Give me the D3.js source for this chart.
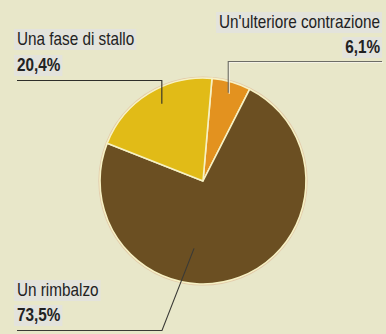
<!DOCTYPE html>
<html>
<head>
<meta charset="utf-8">
<script src="https://cdn.jsdelivr.net/npm/d3@7"></script>
<style>
  html, body { margin: 0; padding: 0; background: #e8e7c9; }
  svg { display: block; }
  text { font-family: "Liberation Sans", Arial, sans-serif; fill: #222; }
</style>
</head>
<body>
<svg id="chart" width="386" height="334"></svg>
<script>
// Scenario shares (percent), drawn clockwise starting with the smallest slice
const categories = ["Un'ulteriore contrazione", "Un rimbalzo", "Una fase di stallo"];
const values = [6.1, 73.5, 20.4];
const valueLabels = ["6,1%", "73,5%", "20,4%"];
const colors = ["#e3921f", "#6b4f22", "#e1bb17"];

const W = 386, H = 334;
const cx = 203, cy = 181, R = 103;
const deg = Math.PI / 180;
const start = 5 * deg;

const svg = d3.select("#chart");

const pie = d3.pie().sort(null).value(d => d).startAngle(start).endAngle(start + 2 * Math.PI);
const arcs = pie(values);
const arc = d3.arc().innerRadius(0).outerRadius(R);

const g = svg.append("g").attr("transform", `translate(${cx},${cy})`);

// faint halo around the disc
g.append("circle").attr("r", R + 0.8).attr("fill", "none")
  .attr("stroke", "#e2c9a9").attr("stroke-width", 1.6);

g.selectAll("path.slice").data(arcs).join("path")
  .attr("class", "slice")
  .attr("d", arc)
  .attr("fill", (d, i) => colors[i])
  .attr("stroke", "#f6f1c4")
  .attr("stroke-width", 1.6)
  .attr("stroke-linejoin", "round");

// label layout: where each leader touches its slice, and where its text sits
const layout = [
  { frac: 0.5,  rf: 0.89, side: "right", nameY: 28,  valY: 53,  lineY: 61.5, lineEnd: 382, stroke: "#6d6d66" },
  { frac: 0.607, rf: 0.66, side: "left", nameY: 296, valY: 321, lineY: 330.5, lineEnd: 17, stroke: "#3a3a36", bend: 162 },
  { frac: 0.55, rf: 0.85, side: "left",  nameY: 45,  valY: 71,  lineY: 80.5, lineEnd: 17, stroke: "#2e2e2a" }
];

function pointOn(a, frac, rf) {
  const ang = a.startAngle + (a.endAngle - a.startAngle) * frac;
  return [cx + Math.sin(ang) * R * rf, cy - Math.cos(ang) * R * rf];
}

const labelBg = svg.append("g");
const labelFg = svg.append("g");
const squeeze = 0.85;

function addLabel(str, x, y, anchor, bold) {
  // horizontally condensed text, anchored at (x, y)
  const grp = labelFg.append("g").attr("transform", `translate(${x},${y}) scale(${squeeze},1)`);
  const t = grp.append("text").attr("x", 0).attr("y", 0)
    .attr("text-anchor", anchor).attr("font-size", 18)
    .attr("font-weight", bold ? "bold" : null).text(str);
  const w = t.node().getComputedTextLength() * squeeze;
  const x0 = anchor === "start" ? x - 3 : x - w - 3;
  labelBg.append("rect")
    .attr("x", x0).attr("y", y - 16).attr("width", w + 5).attr("height", 21)
    .attr("fill", "#e3e3dc");
}

arcs.forEach((a, i) => {
  const L = layout[i];
  const [px, py] = pointOn(a, L.frac, L.rf);
  const isLeft = L.side === "left";
  const tx = isLeft ? 17 : 380;
  const anchor = isLeft ? "start" : "end";

  addLabel(categories[i], tx, L.nameY, anchor, false);
  addLabel(valueLabels[i], tx, L.valY, anchor, true);

  // leader line
  let pts;
  if (L.bend !== undefined) {
    pts = [[L.lineEnd, L.lineY], [L.bend, L.lineY], [px, py]];
  } else {
    pts = [[L.lineEnd, L.lineY], [px, L.lineY], [px, py]];
  }
  if (!isLeft) {
    svg.append("path").attr("d", d3.line()(pts.map(p => [p[0] + 1, p[1] + 1])))
      .attr("fill", "none").attr("stroke", "#f4f2e6").attr("stroke-width", 1);
  }
  svg.append("path").attr("d", d3.line()(pts))
    .attr("fill", "none").attr("stroke", L.stroke).attr("stroke-width", 1.1);
});
</script>
</body>
</html>
